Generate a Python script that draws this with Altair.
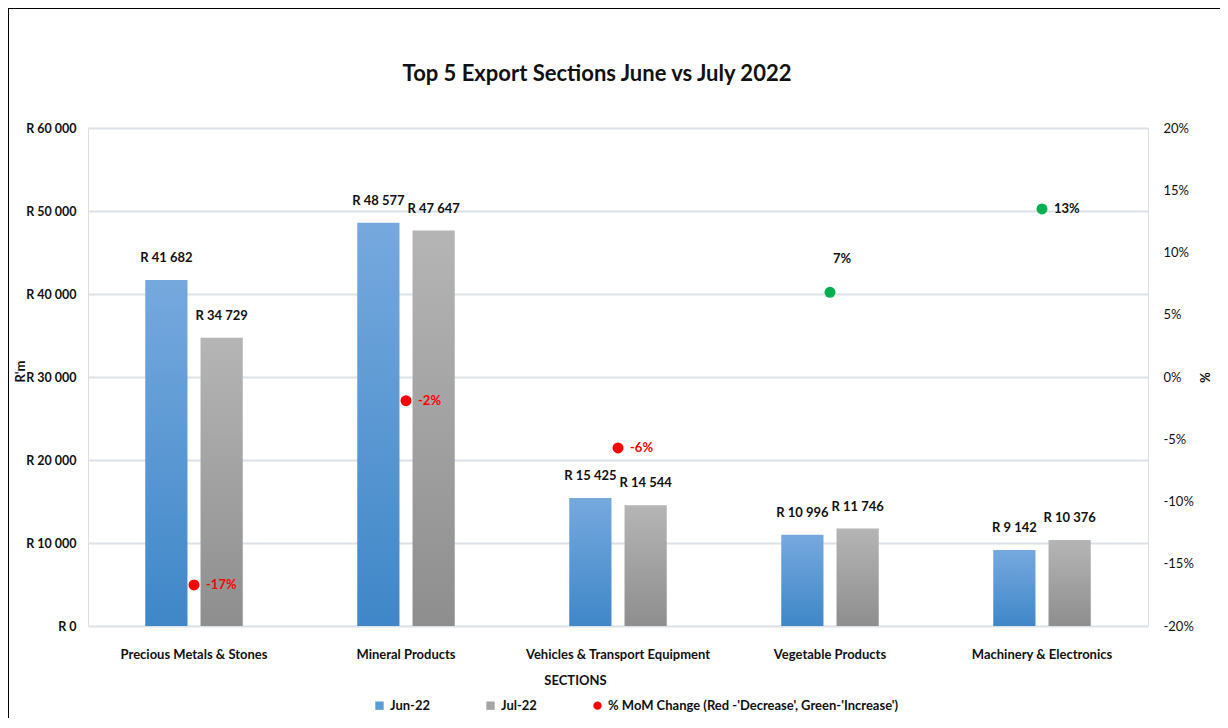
import altair as alt
import pandas as pd

categories = ["Precious Metals & Stones", "Mineral Products", "Vehicles & Transport Equipment",
              "Vegetable Products", "Machinery & Electronics"]
jun_values = [41682, 48577, 15425, 10996, 9142]
jul_values = [34729, 47647, 14544, 11746, 10376]
mom_values = [-16.7, -1.9, -5.7, 6.8, 13.5]
mom_labels = ["-17%", "-2%", "-6%", "7%", "13%"]
series_names = ["Jun-22", "Jul-22"]
legend_names = ["Jun-22", "Jul-22", "% MoM Change (Red -'Decrease', Green-'Increase')"]
legend_colors = ["#5B9BD5", "#A5A5A5", "#FF0000"]
left_ticks = [0, 10000, 20000, 30000, 40000, 50000, 60000]
right_ticks = [-20, -15, -10, -5, 0, 5, 10, 15, 20]
title_text = "Top 5 Export Sections  June vs July 2022"

FONT = "Lato, Roboto, sans-serif"
W, H = 1060, 498


def rand(v):
    return "R " + f"{v:,}".replace(",", " ")


bars_df = pd.DataFrame({
    "section": categories * 2,
    "series": [series_names[0]] * 5 + [series_names[1]] * 5,
    "value": jun_values + jul_values,
})
bars_df["label"] = bars_df["value"].map(rand)

mom_df = pd.DataFrame({"section": categories, "mom": mom_values, "label": mom_labels})
legend_df = pd.DataFrame({"section": [categories[0]] * 3, "series": legend_names, "value": [0, 0, 0]})


def grad(c1, c2):
    return alt.Gradient(gradient="linear", x1=0, y1=0, x2=0, y2=1,
                        stops=[alt.GradientStop(offset=0, color=c1),
                               alt.GradientStop(offset=1, color=c2)])


x_enc = alt.X("section:N", sort=categories,
              scale=alt.Scale(paddingInner=0.54, paddingOuter=0.27),
              axis=alt.Axis(labelAngle=0, labelPadding=22, domain=False, ticks=False, grid=False,
                            labelFontSize=13, labelFont=FONT, labelColor="#111111", labelLimit=400,
                            labelFontWeight="bold",
                            title="SECTIONS", titleFont=FONT, titleFontSize=13, titleFontWeight="bold",
                            titleX=487, titleY=54, titleBaseline="middle", titleColor="#111111"))
xoff = alt.XOffset("series:N", scale=alt.Scale(domain=series_names, paddingInner=0.236, paddingOuter=0))
y_left = alt.Y("value:Q", scale=alt.Scale(domain=[0, 60000]),
               axis=alt.Axis(values=left_ticks, grid=True, gridColor="#DCE1E8", gridWidth=2,
                             domain=False, ticks=False, labelPadding=12,
                             labelExpr="'R ' + replace(format(datum.value, ','), regexp(',', 'g'), ' ')",
                             labelFont=FONT, labelFontSize=12.5, labelFontWeight="bold", labelColor="#111111",
                             title="R'm", titleFont=FONT, titleFontSize=13, titleFontWeight="bold",
                             titleX=-68, titleY=243, titleBaseline="middle", titleColor="#111111"))
y_right = alt.Y("mom:Q", scale=alt.Scale(domain=[-20, 20]),
                axis=alt.Axis(orient="right", values=right_ticks, grid=False, domain=False, ticks=False,
                              labelPadding=15, labelExpr="datum.value + '%'",
                              labelFont=FONT, labelFontSize=13, labelColor="#111111",
                              title="%", titleFont=FONT, titleFontSize=13, titleFontWeight="bold",
                              titleX=55, titleY=249, titleBaseline="middle", titleColor="#111111"))

bars = alt.Chart(bars_df)
jun_bars = bars.transform_filter(alt.datum.series == series_names[0]).mark_bar(
    fill=grad("#76A9DE", "#3F87C8")).encode(x=x_enc, xOffset=xoff, y=y_left)
jul_bars = bars.transform_filter(alt.datum.series == series_names[1]).mark_bar(
    fill=grad("#B5B5B5", "#8E8E8E")).encode(x=x_enc, xOffset=xoff, y=y_left)
bar_labels = bars.mark_text(font=FONT, fontSize=13, fontWeight="bold", baseline="bottom", dy=-15,
                            color="#111111").encode(x=x_enc, xOffset=xoff, y=y_left, text="label:N")

leg = dict(title=None, orient="none", legendX=285, legendY=571,
           direction="horizontal", symbolOpacity=1, symbolSize=70,
           labelFont=FONT, labelFontSize=13, labelFontWeight="bold",
           labelColor="#111111", columnPadding=53, labelLimit=500)
legend_layer = alt.Chart(legend_df).mark_point(filled=True, opacity=0).encode(
    x=x_enc, y=y_left,
    color=alt.Color("series:N", scale=alt.Scale(domain=legend_names, range=legend_colors),
                    legend=alt.Legend(**leg)),
    shape=alt.Shape("series:N", scale=alt.Scale(domain=legend_names, range=["square", "square", "circle"]),
                    legend=alt.Legend(**leg)),
)

one_df = pd.DataFrame({"t": [title_text]})
border_v = alt.Chart(one_df).mark_rule(color="black", strokeWidth=2).encode(
    x=alt.value(-80), y=alt.value(-120), y2=alt.value(H + 100))
border_h = alt.Chart(one_df).mark_rule(color="black", strokeWidth=2).encode(
    x=alt.value(-80), x2=alt.value(W + 100), y=alt.value(-120))
title_mark = alt.Chart(one_df).mark_text(font=FONT, fontSize=22, fontWeight="bold", color="#111111",
                                         align="center", baseline="middle").encode(
    x=alt.value(509), y=alt.value(-54), text="t:N")

left = alt.layer(jun_bars, jul_bars, bar_labels, legend_layer, border_v, border_h, title_mark)

pcol = alt.condition(alt.datum.mom < 0, alt.value("#FF0000"), alt.value("#00B050"))
tcol = alt.condition(alt.datum.mom < 0, alt.value("#FF0000"), alt.value("#111111"))
mom = alt.Chart(mom_df)
points = mom.mark_circle(size=120, opacity=1).encode(x=x_enc, y=y_right, color=pcol)
mom_text_a = mom.transform_filter(alt.datum.section != categories[3]).mark_text(
    font=FONT, fontSize=13, fontWeight="bold", align="left", baseline="middle", dx=12).encode(
    x=x_enc, y=y_right, text="label:N", color=tcol)
mom_text_b = mom.transform_filter(alt.datum.section == categories[3]).mark_text(
    font=FONT, fontSize=13, fontWeight="bold", align="center", baseline="middle", dx=12, dy=-33).encode(
    x=x_enc, y=y_right, text="label:N", color=tcol)
right = alt.layer(points, mom_text_a, mom_text_b)

chart = alt.layer(left, right).resolve_scale(y="independent").properties(
    width=W, height=H,
    autosize=alt.AutoSizeParams(type="none"),
    padding={"left": 80, "top": 120, "right": 72, "bottom": 92},
).configure_view(stroke=None).configure(font=FONT, background="white")

chart.save("out.html", embed_options={"renderer": "svg", "actions": False})
